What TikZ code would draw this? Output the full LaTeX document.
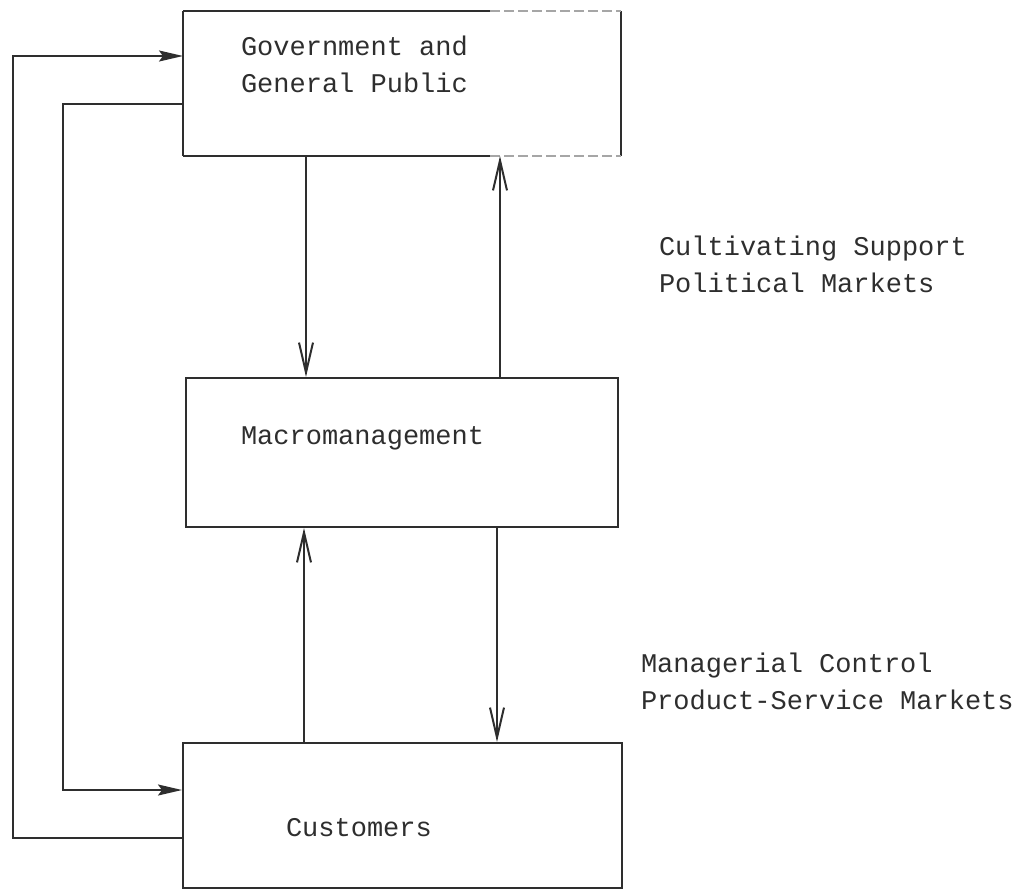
\documentclass[tikz,border=0pt]{standalone}
\usepackage{fontspec}
\setmonofont{Liberation Mono}
\usetikzlibrary{arrows.meta}
\definecolor{ink}{gray}{0.18}
\begin{document}
\begin{tikzpicture}[x=1pt,y=-1pt,
  line width=2pt, draw=ink,
  stage/.style={draw=ink, line width=2pt, inner sep=0pt},
  label/.style={font=\ttfamily\fontsize{27}{37}\selectfont, text=ink,
                align=left, inner sep=0pt, anchor=west},
  flow/.style={-{Straight Barb[length=30pt,width=14pt,line width=2pt]}},
  feed/.style={-{Stealth[length=24pt,width=11pt,inset=4pt]}},
  faded/.style={draw=black!35, line width=1.4pt, dash pattern=on 10pt off 4pt}
]
\useasboundingbox (0,0) rectangle (1023,892);

% the three stages
\node[inner sep=0pt, minimum width=436pt, minimum height=143pt] (gov) at (402,83.5) {};
\node[stage, minimum width=432pt, minimum height=149pt] (macro) at (402,452.5) {};
\node[stage, minimum width=439pt, minimum height=145pt] (cust) at (402.5,815.5) {};

% outline of the top stage, worn on its right half
\coordinate (wear) at (490,0);
\draw (gov.north west) -- (gov.south west);
\draw (gov.north east) -- (gov.south east);
\draw (gov.north west) -- (gov.north west -| wear);
\draw (gov.south west) -- (gov.south west -| wear);
\draw[faded] (gov.north west -| wear) -- (gov.north east);
\draw[faded] (gov.south west -| wear) -- (gov.south east);

% stage texts
\node[label] (govtext) at (240,64) {Government and\\General Public};
\node[label] (macrotext) at (240,438) {Macromanagement};
\node[label] (custtext) at (285,828) {Customers};

% market labels
\node[label] (polit) at (658,264) {Cultivating Support\\Political Markets};
\node[label] (prod) at (640,681) {Managerial Control\\Product-Service Markets};

% vertical flows
\coordinate (xa) at (306,0);
\coordinate (xb) at (500,0);
\coordinate (xc) at (304,0);
\coordinate (xd) at (497,0);
\draw[flow] (gov.south -| xa) -- (macro.north -| xa);
\draw[flow] (macro.north -| xb) -- (gov.south -| xb);
\draw[flow] (cust.north -| xc) -- (macro.south -| xc);
\draw[flow] (macro.south -| xd) -- (cust.north -| xd);

% feedback loops on the left
\coordinate (outlow) at (13,838);
\coordinate (outtop) at (13,56);
\coordinate (intop) at (63,104);
\coordinate (inlow) at (63,790);
\draw[feed] (cust.west |- outlow) -- (outlow) -- (outtop) -- (gov.west |- outtop);
\draw[feed] (gov.west |- intop) -- (intop) -- (inlow) -- (cust.west |- inlow);
\end{tikzpicture}
\end{document}
